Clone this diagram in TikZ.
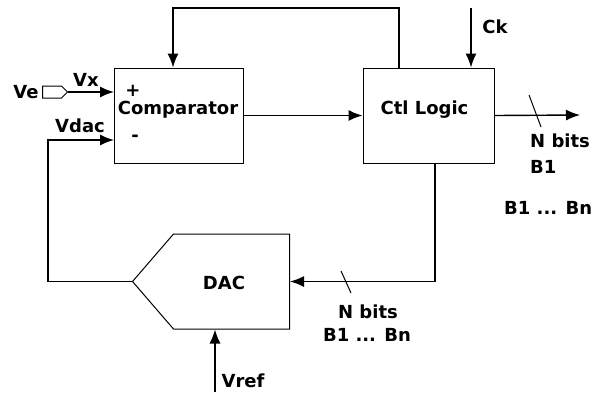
\documentclass[tikz,border=0pt]{standalone}
\usepackage{fontspec}
\setmainfont{DejaVu Sans}
\usetikzlibrary{arrows.meta,shapes.symbols}
\begin{document}
\begin{tikzpicture}[
   x=1pt, y=-1pt,
   font=\fontsize{18}{20}\selectfont\bfseries,
   block/.style={rectangle, draw, line width=1pt, minimum width=129pt, minimum height=95pt, inner sep=0pt},
   arrow/.style={-{Latex[length=14pt,width=11pt]}, line width=1.4pt},
   lbl/.style={inner sep=0pt}
]
\useasboundingbox (0,0) rectangle (594,392);

% Comparator
\node[block] (comp) at (178.5,115.5) {};
\node[lbl] (compt) at (178,110) {Comparator};
\node[lbl] (plus) at (133,91) {+};
\node[lbl] (minus) at (135,138) {-};
\coordinate (vplus) at (114,92);
\coordinate (vminus) at (114,140);

% Ctl Logic
\node[block, minimum width=131pt] (ctl) at (428.5,115.5) {};
\node[lbl] (ctlt) at (424.5,110) {Ctl Logic};

% DAC
\node[signal, signal to=west, signal pointer angle=98.4, draw, line width=1pt,
      minimum width=157pt, minimum height=95pt, inner sep=0pt] (dac) at (231.5,281.5) {};
\node[lbl] (dact) at (224,283) {DAC};

% Input Ve
\node[signal, signal to=east, draw, line width=1pt, minimum width=25pt,
      minimum height=12pt, inner sep=0pt] (ve) at (52,92) {};
\node[lbl] (vet) at (26,92) {Ve};
\node[lbl] (vx) at (86,80) {Vx};
\draw[arrow] (ve.east) -- (vplus);

% Feedback from Ctl Logic
\coordinate (fbtop) at (173,8);
\draw[arrow] ([xshift=-29.5pt]ctl.north) |- (fbtop) -- (fbtop |- comp.north);
\draw[arrow] (comp.east) -- (ctl.west);

% Clock
\coordinate (ck) at (471,8);
\draw[arrow] (ck) -- (ck |- ctl.north);
\node[lbl] (ckt) at (495,27) {Ck};

% Output bits
\coordinate (out) at (580,115);
\draw[arrow] (ctl.east) -- (out);
\draw[line width=1pt] (529,95) -- (541,127);
\node[lbl, anchor=west] (nbits) at (530,141) {N bits};
\node[lbl, anchor=west] (bone) at (530,167) {B1};
\node[lbl, anchor=west] (bbus) at (504,208) {B1 ... Bn};

% Ctl Logic to DAC
\draw[arrow] ([xshift=6.5pt]ctl.south) |- (dac.east);
\draw[line width=1pt] (341,271) -- (351,293);
\node[lbl] (dacn) at (368,312) {N bits};
\node[lbl] (dacb) at (367,335) {B1 ... Bn};

% DAC back to Comparator
\coordinate (fbl) at (48,140);
\draw[arrow] (dac.west) -| (fbl) -- (vminus);
\node[lbl] (vdac) at (80,126) {Vdac};

% Reference
\coordinate (vref) at (215,392);
\draw[arrow] (vref) -- (vref |- dac.south);
\node[lbl] (vreft) at (243,381) {Vref};

\end{tikzpicture}
\end{document}
